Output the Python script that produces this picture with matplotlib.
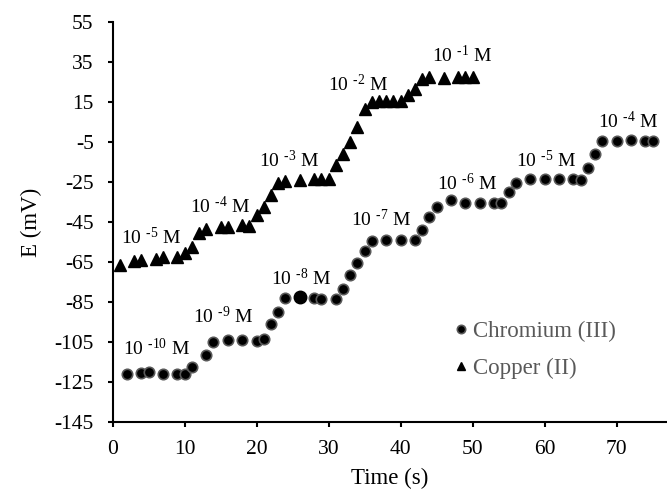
import matplotlib.pyplot as plt

plt.rcParams['font.family'] = ['Liberation Serif', 'DejaVu Serif']
plt.rcParams['mathtext.fontset'] = 'custom'
plt.rcParams['mathtext.rm'] = 'Liberation Serif'
plt.rcParams['mathtext.it'] = 'Liberation Serif'
plt.rcParams['axes.unicode_minus'] = False

# Chromium (III) readings
cr_time = [2, 4, 5, 7, 9, 10, 11, 13, 14, 16, 18, 20, 21, 22, 23, 24, 26, 28, 29, 31,
           32, 33, 34, 35, 36, 38, 40, 42, 43, 44, 45, 47, 49, 51, 53, 54, 55, 56, 58, 60,
           62, 64, 65, 66, 67, 68, 70, 72, 74, 75]
cr_e = [-121, -120.3, -120, -120.8, -120.8, -120.8, -117.3, -111.7, -105.2, -104,
        -104, -104.3, -103.3, -96, -89.8, -82.8, -82.3, -82.8, -83.3, -83.3,
        -78.7, -71.7, -65.5, -59.7, -54.5, -54, -54, -54, -49.2, -42.3,
        -37.5, -34.2, -35.3, -35.3, -35.3, -35.3, -30.2, -25.3, -23.3, -23.3,
        -23.3, -23.3, -24, -18, -10.8, -4.3, -4.5, -4, -4.5, -4.5]

# Copper (II) readings
cu_time = [1, 3, 4, 6, 7, 9, 10, 11, 12, 13, 15, 16, 18, 19, 20, 21, 22, 23, 24, 26,
           28, 29, 30, 31, 32, 33, 34, 35, 36, 37, 38, 39, 40, 41, 42, 43, 44, 46, 48, 49, 50]
cu_e = [-66.5, -64.3, -64, -63.5, -62.3, -62.7, -60.5, -57.7, -50.7, -48.5,
        -47.3, -47.3, -46.7, -46.8, -41.7, -37.3, -31.5, -25.3, -24.5, -24,
        -23.7, -23.7, -23.7, -16.5, -11.2, -5.2, 2.5, 11.5, 15.2, 15.5,
        15.5, 15.5, 15.5, 18.5, 21.3, 26.3, 27.3, 26.8, 27.3, 27.3, 27.3]

# concentration labels (exponent, x, y)
cr_labels = [('-10', 6.1, -111.5), ('-9', 15.4, -95.7), ('-8', 26.2, -76.5),
             ('-7', 37.3, -46.8), ('-6', 49.3, -29), ('-5', 60.2, -17.3), ('-4', 71.6, 1.8)]
cu_labels = [('-5', 5.4, -56.2), ('-4', 15.0, -40.3), ('-3', 24.5, -17.3),
             ('-2', 34.1, 20.7), ('-1', 48.5, 34.8)]

fig = plt.figure(figsize=(6.67, 4.98), dpi=100)
ax = fig.add_axes([0.1687, 0.1526, 0.8313, 0.8032])

ax.plot(cr_time, cr_e, 'o', color='black', markeredgecolor='#595959',
        markeredgewidth=1.2, markersize=7.5, label='Chromium (III)')
# the highlighted point on the 10^-8 plateau
ax.plot(cr_time[16], cr_e[16], 'o', color='black', markersize=9)
ax.plot(cu_time, cu_e, '^', color='black', markersize=8, label='Copper (II)')

for exp, x, y in cr_labels + cu_labels:
    ax.text(x, y, r'10 $^{\text{' + exp + '}}$ M', fontsize=14, ha='center', va='baseline')

ax.set_xlim(0, 77)
ax.set_ylim(-145, 55)
ax.set_xticks(range(0, 80, 10))
ax.set_yticks(range(-145, 56, 20))
ax.set_xlabel('Time (s)', fontsize=16.5, labelpad=7)
ax.set_ylabel('E (mV)', fontsize=16.5, labelpad=9)
ax.tick_params(labelsize=15.5, width=1.5, length=3.6, direction='out')
ax.tick_params(axis='y', pad=10)
ax.tick_params(axis='x', pad=9)
for s in ['top', 'right']:
    ax.spines[s].set_visible(False)
for s in ['left', 'bottom']:
    ax.spines[s].set_linewidth(1.5)

leg = ax.legend(loc='center left', bbox_to_anchor=(0.575, 0.18), frameon=False,
                fontsize=16.5, handletextpad=0.1, handlelength=0.8, labelspacing=0.7,
                markerscale=0.8)
for t in leg.get_texts():
    t.set_color('#595959')

fig.savefig('out.png', dpi=100)
